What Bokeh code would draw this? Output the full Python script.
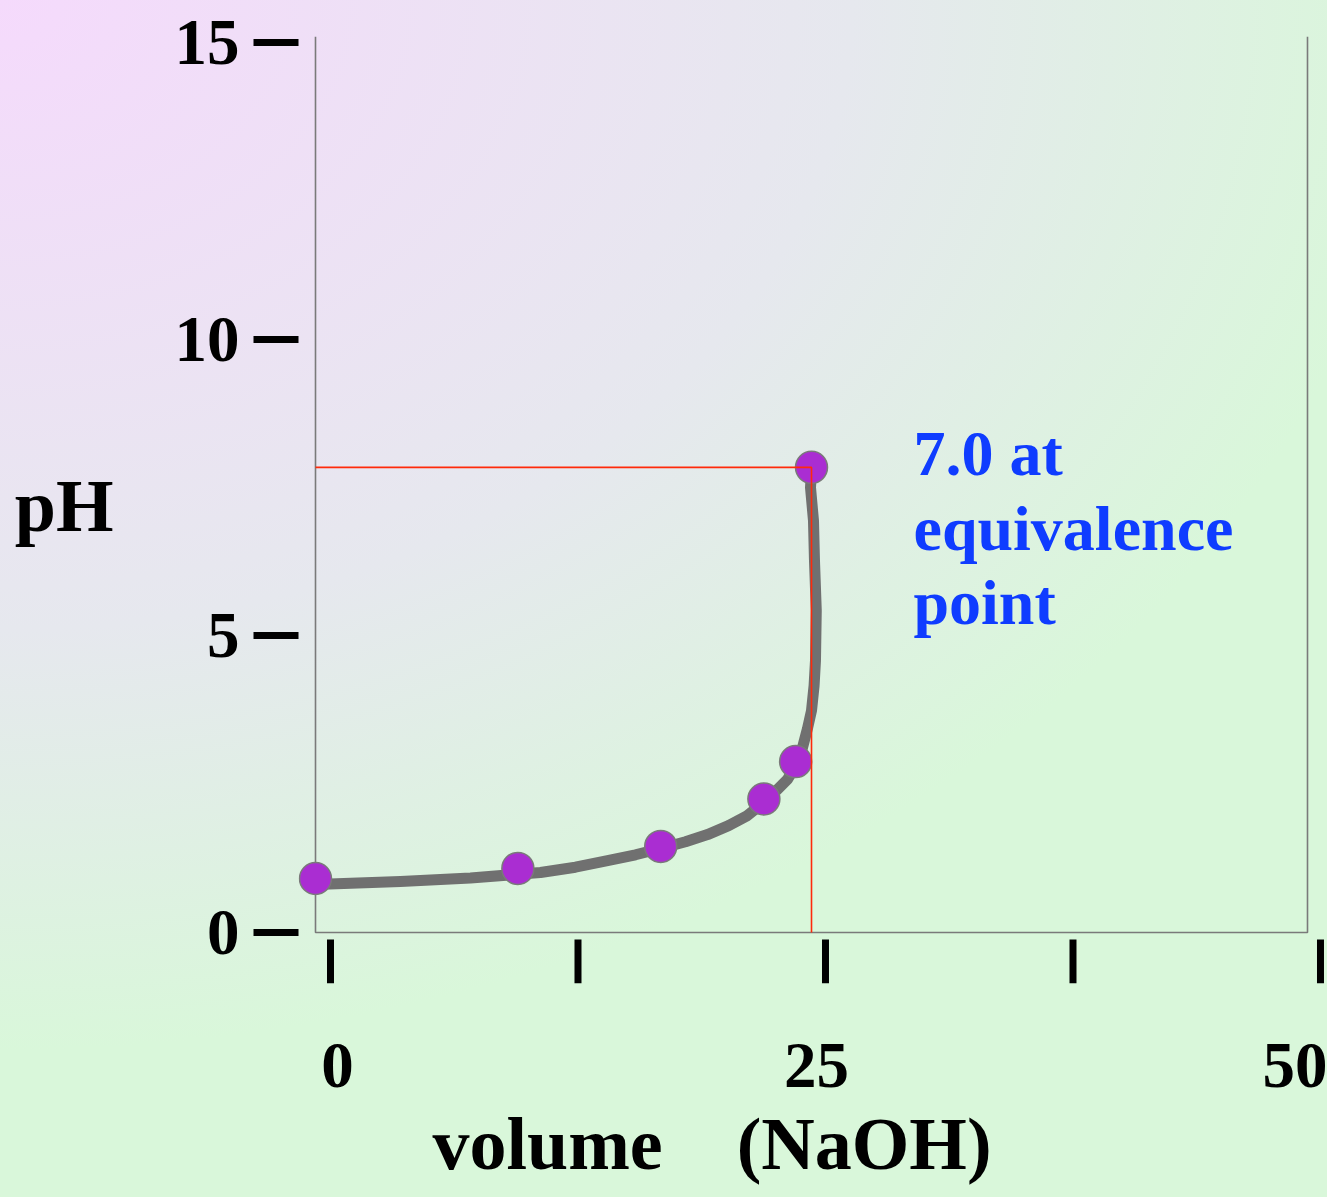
from bokeh.plotting import figure
from bokeh.models import Range1d, LinearAxis, FixedTicker, Label, Title
from bokeh.embed import file_html
from bokeh.resources import INLINE

# ---- data ----
volume_points = [0.0, 10.2, 17.4, 22.6, 24.2, 25.0]
ph_points = [0.91, 1.08, 1.45, 2.25, 2.88, 7.84]

curve_volume = [0.0, 4.28, 7.81, 11.34, 13.10, 14.72, 16.13, 17.44, 18.65, 19.76,
                20.82, 21.77, 22.58, 23.19, 23.79, 24.24, 24.55, 24.8, 25.0, 25.13,
                25.2, 25.24, 25.15, 25.1, 24.95, 25.0]
curve_ph = [0.81, 0.86, 0.92, 1.01, 1.10, 1.21, 1.31, 1.42, 1.53, 1.65,
            1.80, 1.97, 2.19, 2.38, 2.58, 2.83, 3.12, 3.44, 3.74, 4.16,
            4.58, 5.43, 6.27, 6.94, 7.50, 7.79]

volume_ticks = [0, 12.5, 25, 37.5, 50]
volume_labels = {0: "0", 25: "25", 50: "50"}
ph_ticks = [0, 5, 10, 15]
x_title = "volume\u00a0\u00a0\u00a0\u00a0(NaOH)"
y_title = "pH"
note_lines = ["7.0 at", "equivalence", "point"]

VOL_MAX = 50
PH_MAX = 15.1
eq_volume = volume_points[-1]
eq_ph = ph_points[-1]

SERIF = "Liberation Serif"
W, H = 1327, 1197

p = figure(width=W, height=H, output_backend="svg", toolbar_location=None,
           x_range=Range1d(-0.857, 51.008), y_range=Range1d(-0.860, 15.237),
           x_axis_location=None, y_axis_location=None,
           min_border_left=298, min_border_right=0, min_border_top=28,
           min_border_bottom=214)
p.extra_x_ranges = {"ticks": Range1d(-1.616, 50.354),
                    "labels": Range1d(-2.035, 51.67)}
for g in p.grid:
    g.visible = False
p.outline_line_color = None
p.background_fill_color = None
p.border_fill_color = None
p.styles = {"background": "radial-gradient(ellipse 1420px 1050px at 0px 0px, "
                          "#f5dafc 0%, #e6e8ee 60%, #d9f7da 100%)"}

# y axis (ticks, labels and horizontal title)
yaxis = LinearAxis(ticker=FixedTicker(ticks=ph_ticks), axis_line_color=None,
                   major_tick_out=45, major_tick_in=0, major_tick_line_width=7,
                   major_tick_line_color="black", minor_tick_line_color=None,
                   major_label_standoff=14, major_label_text_font=SERIF,
                   major_label_text_font_style="bold",
                   major_label_text_font_size="65px",
                   major_label_text_color="black",
                   axis_label=y_title, axis_label_orientation="horizontal",
                   axis_label_standoff=58, axis_label_text_font=SERIF,
                   axis_label_text_font_style="bold",
                   axis_label_text_font_size="74px",
                   axis_label_text_color="black")
p.add_layout(yaxis, "left")

# x axis: labels
xlabel_axis = LinearAxis(x_range_name="labels",
                         ticker=FixedTicker(ticks=list(volume_labels.keys())),
                         major_label_overrides=volume_labels,
                         axis_line_color=None, major_tick_line_color=None,
                         major_tick_out=0, major_tick_in=0, minor_tick_line_color=None,
                         major_label_standoff=60, major_label_text_font=SERIF,
                         major_label_text_font_style="bold",
                         major_label_text_font_size="65px",
                         major_label_text_color="black")
p.add_layout(xlabel_axis, "below")

p.add_layout(Title(text=x_title, align="left", offset=134, standoff=23,
                   text_font=SERIF, text_font_style="bold", text_font_size="74px",
                   text_color="black"), "below")

# x tick marks (below the plot box), drawn on the tick scale
tick_top = [-0.12] * len(volume_ticks)
tick_bottom = [-0.86] * len(volume_ticks)
p.segment(x0=volume_ticks, y0=tick_top, x1=volume_ticks, y1=tick_bottom,
          x_range_name="ticks", line_color="black", line_width=7, line_cap="butt")

# plot box (left, bottom, right sides)
p.line([0, 0, VOL_MAX, VOL_MAX], [PH_MAX, 0, 0, PH_MAX], line_color="#7a7a7a",
       line_width=1.6)

# titration curve
p.line(curve_volume, curve_ph, line_color="#707070", line_width=11,
       line_join="round", line_cap="round")
p.scatter(volume_points, ph_points, size=32, fill_color="#aa2dd2",
          line_color="#7a7a7a", line_width=1.5)

# equivalence guide lines
p.line([0, eq_volume, eq_volume], [eq_ph, eq_ph, 0], line_color="#ff2a0a",
       line_width=1.6)

# note
for line_text, y in zip(note_lines, [8.07, 6.81, 5.56]):
    p.add_layout(Label(x=30.14, y=y, text=line_text, text_font=SERIF,
                       text_font_style="bold", text_font_size="64px",
                       text_color="#0f3cff", text_baseline="alphabetic"))

open("out.html", "w").write(file_html(p, INLINE))
